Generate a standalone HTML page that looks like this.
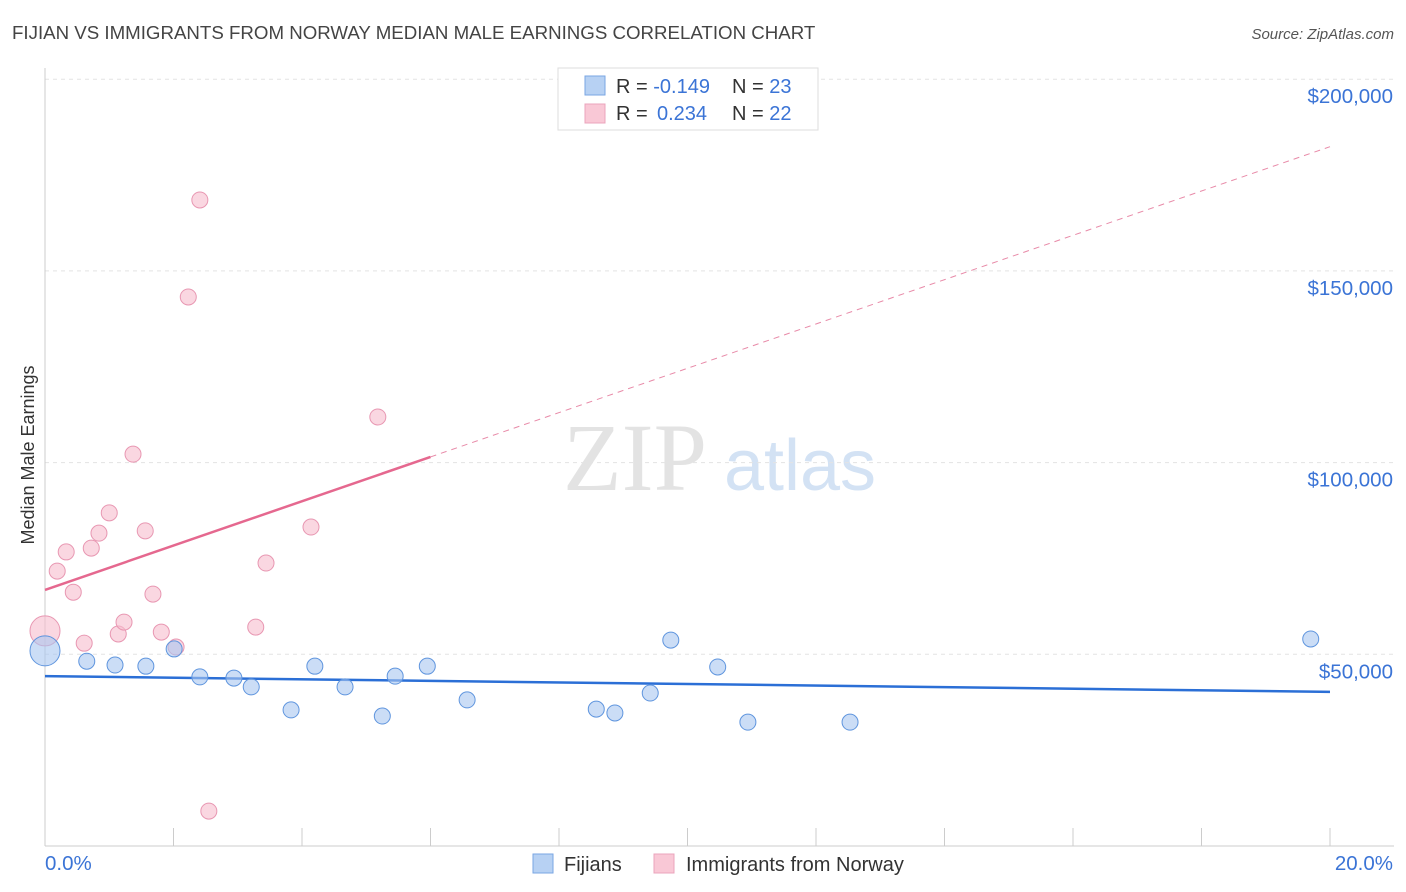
<!DOCTYPE html>
<html><head><meta charset="utf-8"><style>
body{margin:0;background:#fff;font-family:"Liberation Sans",sans-serif}
svg{display:block}
</style></head><body>
<svg id="c" width="1406" height="892" xmlns="http://www.w3.org/2000/svg">
<text x="12" y="39" font-size="18.7" fill="#444">FIJIAN VS IMMIGRANTS FROM NORWAY MEDIAN MALE EARNINGS CORRELATION CHART</text>
<text x="1394" y="39" font-size="15" fill="#555" font-style="italic" text-anchor="end">Source: ZipAtlas.com</text>
<text transform="translate(34,455) rotate(-90)" font-size="18" fill="#333" text-anchor="middle">Median Male Earnings</text>
<g>
<text x="635" y="490" font-size="96" fill="#ddd" font-family="Liberation Serif,serif" text-anchor="middle" opacity="0.8">ZIP</text>
<text x="800" y="490" font-size="72" fill="#c9dcf2" text-anchor="middle" opacity="0.8">atlas</text>
</g>
<g id="grid"></g><g id="axes"></g><g id="trend"></g><g id="pts"></g>
<g>
<rect x="558" y="68" width="260" height="62" fill="#fff" stroke="#ddd"/>
<rect x="585" y="76" width="20" height="19" fill="#b7d1f3" stroke="#7aa6e3"/>
<rect x="585" y="104" width="20" height="19" fill="#f9c8d6" stroke="#eba4bc"/>
<text x="616" y="93" font-size="20" fill="#333">R = <tspan fill="#3b74d6">-0.149</tspan><tspan x="732">N = </tspan><tspan fill="#3b74d6">23</tspan></text>
<text x="616" y="120" font-size="20" fill="#333">R = <tspan fill="#3b74d6" x="657">0.234</tspan><tspan x="732">N = </tspan><tspan fill="#3b74d6">22</tspan></text>
</g>
<g>
<rect x="533" y="854" width="20" height="19" fill="#b7d1f3" stroke="#7aa6e3"/>
<text x="564" y="871" font-size="20" fill="#333">Fijians</text>
<rect x="654" y="854" width="20" height="19" fill="#f9c8d6" stroke="#eba4bc"/>
<text x="686" y="871" font-size="20" fill="#333">Immigrants from Norway</text>
</g>
</svg>
<script>
const yTicks=[50000,100000,150000,200000];
const yTickLabels=["$50,000","$100,000","$150,000","$200,000"];
const xTickVals=[0,2,4,6,8,10,12,14,16,18,20];
const fijiX=[0,0.65,1.09,1.57,2.01,2.41,2.94,3.21,3.83,4.20,4.67,5.25,5.45,5.95,6.57,8.58,8.87,9.42,9.74,10.47,10.94,12.53,19.70];
const fijiY=[50.9,48.2,47.2,46.9,51.4,44.1,43.8,41.5,35.5,46.9,41.5,33.9,44.3,46.9,38.1,35.7,34.7,39.9,53.7,46.7,32.3,32.3,54.0];
const norX=[0,0.19,0.33,0.44,0.61,0.72,0.84,1.0,1.14,1.23,1.37,1.56,1.68,1.81,2.04,2.23,2.41,2.55,3.28,3.44,4.14,5.18];
const norY=[56.1,71.7,76.7,66.2,52.9,77.7,81.6,86.9,55.3,58.4,102.2,82.2,65.7,55.8,51.9,143.2,168.5,9.1,57.1,73.8,83.2,111.9];
const fijiTrend=[44.3,40.2];
const norTrend=[66.8,182.4];
const NS="http://www.w3.org/2000/svg";
const X=v=>45+v*64.25, Y=v=>846-v*3.834;
function mk(t,a,p){const e=document.createElementNS(NS,t);for(const k in a)e.setAttribute(k,a[k]);p.appendChild(e);return e;}
const grid=document.getElementById('grid'),axes=document.getElementById('axes'),tr=document.getElementById('trend'),pts=document.getElementById('pts');
yTicks.forEach((t,i)=>{
 const l=mk('line',{x1:45,x2:1394,y1:Y(t/1000),y2:Y(t/1000),stroke:'#e3e3e3','stroke-dasharray':'4,4'},grid);
 
 
 const tx=mk('text',{x:1393,y:Y(t/1000)+24,'font-size':20.5,fill:'#3b74d6','text-anchor':'end'},axes);
 tx.textContent=yTickLabels[i];
 
 
});
mk('line',{x1:45,x2:45,y1:68,y2:846,stroke:'#ccc'},axes);
mk('line',{x1:45,x2:1394,y1:846,y2:846,stroke:'#ccc'},axes);
xTickVals.forEach(v=>{const l=mk('line',{x1:X(v),x2:X(v),y1:828,y2:846,stroke:'#ccc'},axes);
 
 });
const xl=mk('text',{x:45,y:870,'font-size':20.5,fill:'#3b74d6'},axes);xl.textContent='0.0%';


const xr=mk('text',{x:1393,y:870,'font-size':20.5,fill:'#3b74d6','text-anchor':'end'},axes);xr.textContent='20.0%';


const bt=mk('line',{x1:X(0),y1:Y(fijiTrend[0]),x2:X(20),y2:Y(fijiTrend[1]),stroke:'#2b6fd6','stroke-width':2.5},tr);


const nAt=x=>norTrend[0]+(norTrend[1]-norTrend[0])*x/20;
const ps=mk('line',{x1:X(0),y1:Y(nAt(0)),x2:X(6),y2:Y(nAt(6)),stroke:'#e5688f','stroke-width':2.5},tr);


const pd=mk('line',{x1:X(6),y1:Y(nAt(6)),x2:X(20),y2:Y(nAt(20)),stroke:'#e88aa8','stroke-width':1,'stroke-dasharray':'6,5'},tr);


function dots(xs,ys,fill,stroke,name){xs.forEach((x,i)=>{
 const c=mk('circle',{cx:X(x),cy:Y(ys[i]),r:i===0?15:8,fill:fill,stroke:stroke,'stroke-width':1,'fill-opacity':0.6},pts);
 
 });}
dots(norX,norY,'#f7bccd','#e897b2','norway-point');
dots(fijiX,fijiY,'#a9c7f0','#5f95de','fijians-point');
</script>
</body></html>
